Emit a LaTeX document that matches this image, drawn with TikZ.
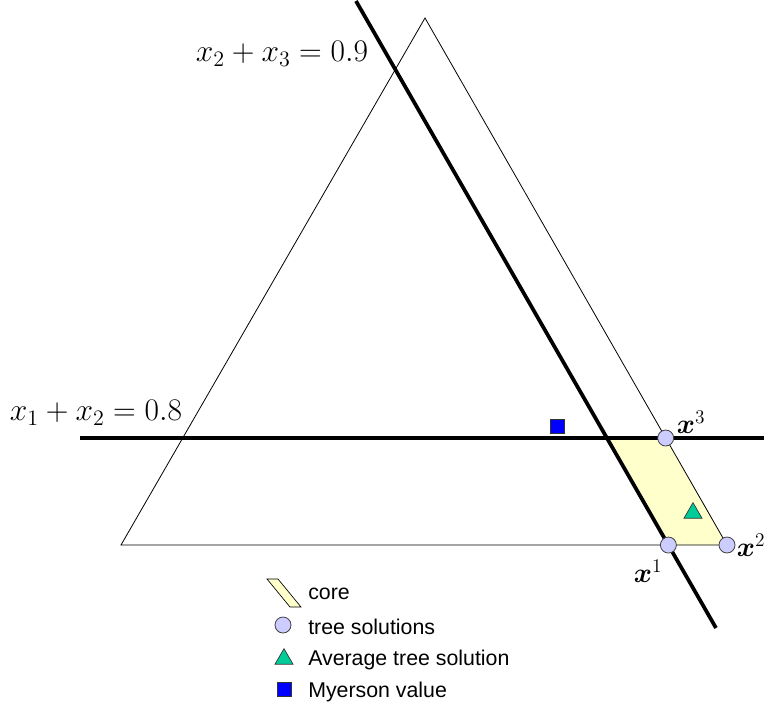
\RequirePackage{fix-cm}
\documentclass[tikz,border=0pt]{standalone}
\usepackage{amsmath,bm}
\usepackage{fontspec}
\setsansfont{Liberation Sans}
\usetikzlibrary{shapes.geometric}
\definecolor{corefill}{RGB}{255,255,204}
\definecolor{treefill}{RGB}{204,204,255}
\definecolor{avgfill}{RGB}{0,204,153}
\definecolor{myfill}{RGB}{0,0,255}
\tikzset{
  thinline/.style={line width=0.6pt, black},
  boldline/.style={line width=2.8pt, black},
  coreshape/.style={fill=corefill, draw=black, line width=0.5pt},
  treept/.style={circle, fill=treefill, draw=black!75, line width=0.6pt, minimum size=12pt, inner sep=0pt},
  avgpt/.style={regular polygon, regular polygon sides=3, fill=avgfill, draw=black!80, line width=0.5pt, minimum size=15.6pt, inner sep=0pt},
  mypt/.style={rectangle, fill=myfill, draw=black!80, line width=0.5pt, minimum size=10.5pt, inner sep=0pt},
  mathlabel/.style={font=\fontsize{23.6}{28}\selectfont, inner sep=0pt},
  ptlabel/.style={font=\fontsize{20.7}{25}\selectfont, inner sep=0pt},
  legtext/.style={font=\sffamily\fontsize{16}{19}\selectfont, anchor=west, inner sep=0pt},
}
\begin{document}
\begin{tikzpicture}[x=0.75pt, y=-0.75pt]
\useasboundingbox (0,0) rectangle (764,711);
% triangle corners
\coordinate (A) at (121,545);
\coordinate (B) at (425,18);
\coordinate (C) at (727,545);
% bold line ends
\coordinate (h1) at (80,438);
\coordinate (h2) at (764,438);
\coordinate (d1) at (356,1);
\coordinate (d2) at (716,628);
% core corners
\coordinate (P) at (intersection of h1--h2 and d1--d2);
\coordinate (Q) at (intersection of h1--h2 and B--C);
\coordinate (R) at (intersection of d1--d2 and A--C);
\fill[corefill] (P) -- (Q) -- (C) -- (R) -- cycle;
% triangle
\draw[thinline] (A) -- (B) -- (C) -- cycle;
% bold lines
\draw[boldline] (h1) -- (h2);
\draw[boldline] (d1) -- (d2);
% line labels
\node[mathlabel] (l1) at (96,413) {$x_1+x_2=0.8$};
\node[mathlabel] (l2) at (282,54) {$x_2+x_3=0.9$};
% points
\node[treept] (x3) at (Q) {};
\node[treept] (x1) at (R) {};
\node[treept] (x2) at (C) {};
\node[avgpt] (avg) at (693,513) {};
\node[mypt] (my) at (557,426) {};
\node[ptlabel] (lx3) at (691,422) {$\bm{x}^3$};
\node[ptlabel] (lx1) at (648,571) {$\bm{x}^1$};
\node[ptlabel] (lx2) at (751,545) {$\bm{x}^2$};
% legend
\fill[coreshape] (267,579) -- (278,579) -- (301,607) -- (290,607) -- cycle;
\node[treept] (gtree) at (283,625) {};
\node[avgpt] (gavg) at (284,659) {};
\node[mypt] (gmy) at (284,689) {};
\node[legtext] (tcore) at (308,594) {core};
\node[legtext] (ttree) at (308,627) {tree solutions};
\node[legtext] (tavg) at (308,660) {Average tree solution};
\node[legtext] (tmy) at (308,692) {Myerson value};
\end{tikzpicture}
\end{document}
